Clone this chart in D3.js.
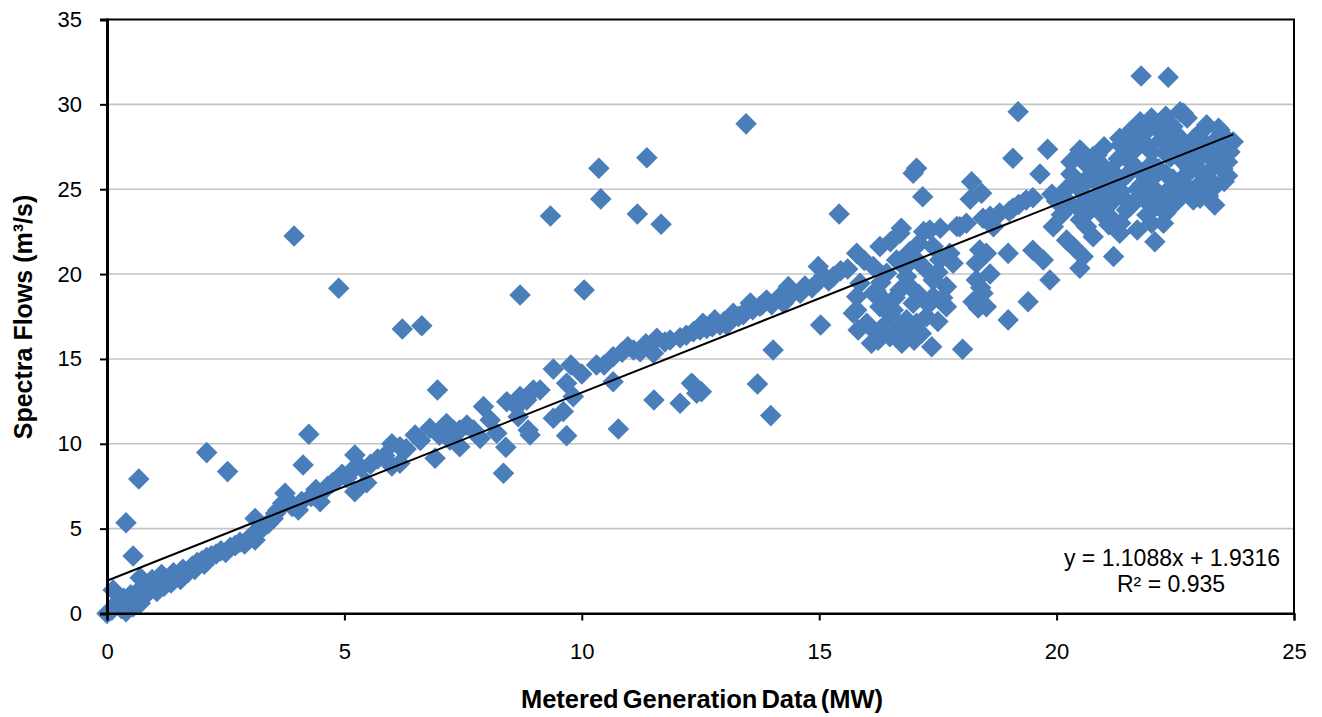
<!DOCTYPE html>
<html>
<head>
<meta charset="utf-8">
<script src="https://cdn.jsdelivr.net/npm/d3@7/dist/d3.min.js"></script>
<style>
  html, body { margin: 0; padding: 0; background: #ffffff; }
  svg { display: block; }
  text { font-family: "Liberation Sans", Arial, sans-serif; fill: #000; }
</style>
</head>
<body>
<svg id="chart" width="1322" height="717"></svg>
<script>
// Metered generation (MW) vs. Spectra flows (m³/s)
const generationMW = [
  0,0.1,0.13,0.2,0.3,0.35,0.4,0.45,0.5,0.55,0.6,0.65,0.7,0.75,0.8,0.85,0.7,0.9,0.95,1.0,
  1.05,1.1,1.15,1.2,1.3,1.35,1.4,1.5,1.55,1.6,1.7,1.8,1.85,1.9,2.0,2.05,2.1,2.2,2.3,2.4,
  2.5,2.6,0.40,0.55,0.67,2.10,2.54,
  2.7,2.8,2.9,3.0,3.05,3.12,3.12,3.2,3.3,3.4,3.5,3.55,3.6,3.7,3.75,3.8,3.9,4.03,4.1,4.13,
  4.25,4.3,4.4,4.49,4.55,4.65,4.75,4.85,4.95,5.05,5.15,5.22,5.22,5.35,5.47,5.55,5.7,5.85,
  6.0,6.0,6.17,6.17,6.3,6.49,6.6,
  6.80,6.91,6.96,7.0,7.15,7.22,7.3,7.43,7.43,7.58,7.72,7.86,7.93,8.07,8.21,8.35,8.40,8.42,
  8.63,8.66,8.70,8.84,8.87,8.91,8.98,9.12,9.40,9.40,9.61,9.68,9.68,9.77,9.82,10.0,10.05,
  8.70,9.34,10.36,10.40,11.37,11.17,11.67,13.46,3.94,4.88,6.22,6.63,
  10.31,10.47,10.66,10.66,10.77,10.85,10.97,11.09,11.23,11.35,11.51,11.58,11.52,11.75,
  11.86,12.07,12.07,12.2,12.31,12.35,12.35,12.42,12.52,12.49,12.63,12.75,12.91,13.0,13.12,
  13.19,13.3,13.47,13.6,13.70,13.75,13.89,13.98,14.03,14.0,14.15,14.25,
  12.55,12.8,13.05,13.4,13.55,13.8,
  14.35,14.45,14.6,14.7,14.85,14.98,14.98,15.03,15.1,15.2,15.3,15.42,15.45,15.6,15.72,15.79,
  15.79,15.79,15.86,15.95,16.0,16.1,16.14,16.14,16.21,16.28,16.28,16.42,16.42,16.49,16.5,
  16.56,16.63,16.7,16.7,16.73,16.74,16.84,16.84,16.84,16.98,16.98,17.05,17.05,17.05,17.18,
  17.2,17.26,17.26,17.33,17.37,17.4,17.4,17.4,17.54,17.55,17.68,17.68,17.75,17.82,17.9,
  17.96,18.02,18.1,18.18,18.21,18.24,18.31,18.31,18.38,18.42,18.45,18.45,18.52,18.52,18.6,
  18.67,18.8,18.98,18.98,19.0,19.08,19.08,19.19,19.2,19.36,19.40,19.5,19.5,19.65,19.72,
  19.81,19.86,19.9,19.93,16.24,15.82,
  16.3,16.6,16.9,17.1,16.5,16.7,17.3,17.5,17.15,16.35,16.8,17.5,16.9,17.1,16.2,17.6,17.0,16.65,
  18.4,18.6,18.35,
  20.0,20.1,20.2,20.21,20.35,20.3,20.4,20.49,20.49,20.5,20.53,20.56,20.6,20.63,20.7,20.77,
  20.77,20.8,20.9,20.91,21.0,21.05,21.1,21.19,21.2,21.2,21.3,21.33,21.33,21.4,21.47,21.5,
  21.6,21.68,21.7,21.76,21.78,21.8,21.9,21.9,22.0,22.04,22.07,22.1,22.11,22.2,22.25,22.3,
  22.32,22.35,22.4,22.5,22.5,22.6,22.6,22.67,22.7,22.74,22.8,22.88,22.9,23.0,23.02,23.1,
  23.16,23.2,23.3,23.33,23.41,23.44,23.5,23.53,23.6,23.72,23.65,
  20.3,20.3,20.45,20.45,20.65,20.65,20.65,20.85,20.85,20.85,21.0,21.0,21.0,21.15,21.15,
  21.35,21.35,21.35,21.35,21.55,21.55,21.55,21.7,21.7,21.7,21.85,21.85,21.85,
  22.0,22.0,22.0,22.0,22.15,22.15,22.15,22.3,22.3,22.3,22.3,22.45,22.45,22.45,
  22.6,22.6,22.6,22.75,22.75,22.75,22.9,22.9,22.9,23.05,23.05,23.05,23.2,23.2,23.2,
  23.35,23.35,23.35,23.5,23.5,23.6,23.6
];
const flowM3s = [
  0,0.2,1.38,0.6,0.3,0.9,0.1,0.5,1.1,0.4,0.8,1.3,0.6,1.0,1.6,1.2,2.1,1.4,2.0,1.7,
  1.3,1.9,2.3,1.6,2.1,1.8,2.4,2.2,2.0,2.6,2.4,2.8,2.6,3.0,3.1,2.9,3.3,3.4,3.5,3.7,
  3.6,3.9,5.35,3.39,7.93,9.48,8.36,
  4.0,4.2,4.1,4.4,4.6,4.33,5.6,4.9,5.1,5.3,5.6,5.9,6.1,6.5,7.08,6.7,6.3,6.1,6.6,8.75,
  10.56,6.9,7.3,6.59,7.2,7.5,7.7,7.9,8.2,8.0,8.4,7.18,9.34,8.6,7.71,8.8,9.1,9.3,
  8.69,10.0,9.83,8.85,9.7,10.52,10.2,
  10.91,9.15,13.17,10.5,11.2,10.22,10.8,10.81,9.83,11.1,10.81,10.32,12.19,11.4,10.62,8.26,9.79,12.48,
  12.19,11.6,12.78,12.58,10.81,10.52,13.17,13.17,14.4,11.5,11.9,10.48,13.57,14.64,12.78,14.11,19.06,
  18.77,23.42,26.23,24.43,26.86,23.54,22.93,28.85,22.24,19.16,16.76,16.96,
  14.64,14.64,15.13,13.66,10.87,15.4,15.72,15.53,15.43,15.9,15.33,16.22,12.58,16.0,
  16.12,16.25,12.39,16.4,13.57,16.6,13.47,12.98,13.07,16.7,16.8,16.9,17.0,17.2,17.4,
  17.69,17.5,17.88,17.9,13.52,18.1,18.47,11.66,15.53,18.2,18.6,18.3,
  17.1,17.3,17.0,17.6,18.3,18.2,
  19.26,18.9,18.87,19.3,19.2,20.44,19.55,17.0,19.9,19.6,19.85,23.54,20.2,20.3,17.69,18.67,
  21.22,17.88,19.46,20.8,17.1,15.92,18.87,20.44,16.51,21.62,18.08,17.1,20.05,16.31,21.9,
  17.88,20.83,22.4,19.06,22.7,15.92,19.85,16.6,17.3,18.28,25.94,26.23,17.1,20.83,24.56,
  22.5,17.49,20.24,22.6,15.72,18.67,19.65,21.62,20.83,22.7,19.26,18.08,21.22,20.64,22.8,
  22.79,15.57,23.0,24.41,25.44,18.37,20.64,19.65,21.42,24.76,23.29,18.87,18.08,21.22,23.4,
  22.79,23.6,17.3,21.22,23.7,23.88,26.82,29.57,24.1,24.37,18.37,21.4,24.5,25.9,20.83,
  27.35,19.65,24.7,22.79,16.1,16.7,
  19.5,18.6,19.3,18.8,17.6,16.9,18.2,17.2,16.5,18.5,20.4,20.1,21.3,21.8,19.0,18.6,16.1,16.3,
  19.2,20.0,18.0,
  24.3,23.5,25.0,22.0,21.62,24.1,25.4,20.34,27.31,23.2,27.21,21.03,24.6,22.79,25.8,22.2,
  26.92,24.0,25.2,23.78,26.3,24.96,22.9,23.19,21.03,25.6,26.8,22.4,28.0,24.5,23.78,25.9,
  27.2,24.37,26.2,28.98,31.67,25.3,23.48,27.6,26.5,28.79,21.91,24.9,24.76,27.9,22.99,25.9,
  28.98,31.6,26.9,24.2,28.3,29.57,25.5,29.48,27.3,25.15,26.2,24.37,28.0,26.8,24.47,25.8,
  28.79,27.4,26.3,24.07,28.59,28.49,27.0,25.45,26.6,27.8,27.2,
  25.9,26.6,23.9,25.1,25.5,26.4,23.6,24.6,26.0,27.0,23.4,25.4,27.5,24.2,26.1,
  23.0,24.9,25.5,27.6,24.0,26.6,28.4,22.6,25.0,27.8,24.4,26.0,28.3,
  23.0,25.6,27.2,29.2,24.0,26.2,28.5,23.6,24.8,27.1,29.3,25.6,27.6,28.7,
  24.8,26.8,28.0,25.9,27.0,29.2,25.0,26.5,27.6,25.4,27.9,28.4,24.6,26.0,27.0,
  25.2,26.8,27.9,26.2,28.2,25.8,27.5
];

// Linear trendline reported on the chart
const trendSlope = 1.1088;
const trendIntercept = 1.9316;
const rSquared = 0.935;

const xTicks = [0, 5, 10, 15, 20, 25];
const yTicks = [0, 5, 10, 15, 20, 25, 30, 35];

const xTitle = "Metered Generation Data (MW)";
const yTitle = "Spectra Flows (m³/s)";

const svg = d3.select("#chart");
const plot = { left: 107, right: 1294, top: 19.5, bottom: 613.5 };

const x = d3.scaleLinear().domain([0, 25]).range([plot.left, plot.right]);
const y = d3.scaleLinear().domain([0, 35]).range([plot.bottom, plot.top]);

// horizontal gridlines
svg.append("g")
  .selectAll("line")
  .data(yTicks.filter(v => v > 0 && v < 35))
  .join("line")
  .attr("x1", plot.left).attr("x2", plot.right)
  .attr("y1", d => y(d)).attr("y2", d => y(d))
  .attr("stroke", "#c4c4c4").attr("stroke-width", 1.6);

// scatter markers (diamonds)
const points = generationMW.map((g, i) => [g, flowM3s[i]]);
const diamond = d3.symbol().type(d3.symbolSquare).size(232);
svg.append("g")
  .selectAll("path")
  .data(points)
  .join("path")
  .attr("d", diamond)
  .attr("transform", d => `translate(${x(d[0])},${y(d[1])}) rotate(45)`)
  .attr("fill", "#4a7ebb");

// trendline across the data range
const xMax = d3.max(generationMW);
svg.append("line")
  .attr("x1", x(0)).attr("y1", y(trendIntercept))
  .attr("x2", x(xMax)).attr("y2", y(trendSlope * xMax + trendIntercept))
  .attr("stroke", "#000").attr("stroke-width", 2);

// plot frame
svg.append("rect")
  .attr("x", plot.left).attr("y", plot.top)
  .attr("width", plot.right - plot.left).attr("height", plot.bottom - plot.top)
  .attr("fill", "none").attr("stroke", "#000").attr("stroke-width", 2);

// axes
const yAxis = d3.axisLeft(y).tickValues(yTicks).tickSize(7).tickPadding(18).tickFormat(d3.format("d"));
const gy = svg.append("g").attr("transform", `translate(${plot.left},0)`).call(yAxis);
gy.select(".domain").attr("stroke", "#000").attr("stroke-width", 3);
gy.selectAll(".tick line").attr("stroke", "#000").attr("stroke-width", 2);
gy.selectAll(".tick text").attr("font-size", 22).attr("font-family", "Liberation Sans, Arial, sans-serif").attr("fill", "#000");

const xAxis = d3.axisBottom(x).tickValues(xTicks).tickSize(7).tickPadding(23).tickFormat(d3.format("d"));
const gx = svg.append("g").attr("transform", `translate(0,${plot.bottom})`).call(xAxis);
gx.select(".domain").attr("stroke", "#000").attr("stroke-width", 2);
gx.selectAll(".tick line").attr("stroke", "#000").attr("stroke-width", 2);
gx.selectAll(".tick text").attr("font-size", 22).attr("font-family", "Liberation Sans, Arial, sans-serif").attr("fill", "#000");

// axis titles
svg.append("text")
  .attr("x", 702).attr("y", 708)
  .attr("text-anchor", "middle").attr("font-size", 25.5).attr("font-weight", "bold")
  .attr("word-spacing", -3)
  .text(xTitle);

svg.append("text")
  .attr("transform", `translate(32,317) rotate(-90)`)
  .attr("text-anchor", "middle").attr("font-size", 25).attr("font-weight", "bold")
  .text(yTitle);

// trendline equation
svg.append("text")
  .attr("x", 1172).attr("y", 566)
  .attr("text-anchor", "middle").attr("font-size", 23)
  .text(`y = ${trendSlope}x + ${trendIntercept}`);
svg.append("text")
  .attr("x", 1171).attr("y", 592)
  .attr("text-anchor", "middle").attr("font-size", 23)
  .text(`R² = ${rSquared}`);
</script>
</body>
</html>
